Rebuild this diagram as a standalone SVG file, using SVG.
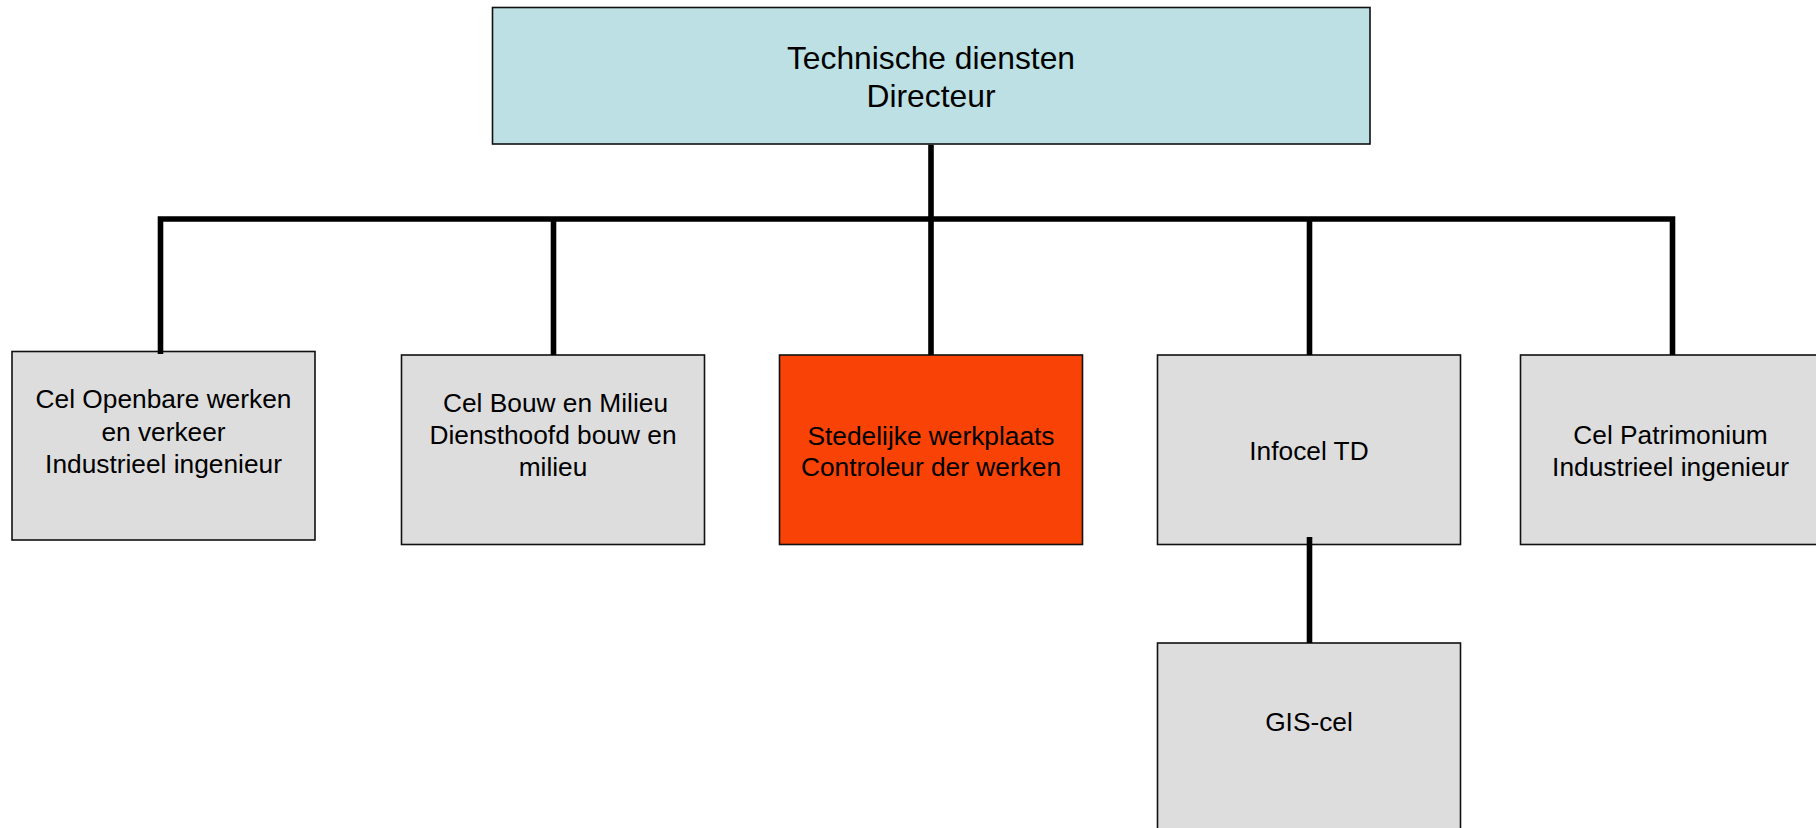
<svg xmlns="http://www.w3.org/2000/svg" width="1816" height="828" viewBox="0 0 1816 828">
<style>
.box{stroke:#111;stroke-width:1.6}
.grey{fill:#DDDDDD}
.blue{fill:#BCE0E3}
.red{fill:#F84206}
.t{font-family:"Liberation Sans",Arial,sans-serif;font-size:26.3px;fill:#000;text-anchor:middle}
.big{font-size:31.8px}
.conn{fill:none;stroke:#000;stroke-width:5.6;stroke-linejoin:miter;stroke-linecap:butt}
</style>
<rect width="1816" height="828" fill="#fff"/>
<g id="n-directeur">
<rect class="box blue" x="492.5" y="7.5" width="877.5" height="136.5"/>
<text class="t big" x="931" y="69">Technische diensten</text>
<text class="t big" x="931" y="106.5">Directeur</text>
</g>
<g id="n-openbare">
<rect class="box grey" x="12" y="351.5" width="303" height="188.5"/>
<text class="t" x="163.5" y="408">Cel Openbare werken</text>
<text class="t" x="163.5" y="440.5">en verkeer</text>
<text class="t" x="163.5" y="472.5">Industrieel ingenieur</text>
</g>
<g id="n-bouw">
<rect class="box grey" x="401.5" y="355" width="303" height="189.5"/>
<text class="t" x="555.5" y="411.5">Cel Bouw en Milieu</text>
<text class="t" x="553" y="444">Diensthoofd bouw en</text>
<text class="t" x="553" y="476">milieu</text>
</g>
<g id="n-werkplaats">
<rect class="box red" x="779.5" y="355" width="303" height="189.5"/>
<text class="t" x="931" y="445">Stedelijke werkplaats</text>
<text class="t" x="931" y="476">Controleur der werken</text>
</g>
<g id="n-infocel">
<rect class="box grey" x="1157.5" y="355" width="303" height="189.5"/>
<text class="t" x="1309" y="460">Infocel TD</text>
</g>
<g id="n-patrimonium">
<rect class="box grey" x="1520.5" y="355" width="302" height="189.5"/>
<text class="t" x="1670.5" y="443.5">Cel Patrimonium</text>
<text class="t" x="1670.5" y="476">Industrieel ingenieur</text>
</g>
<g id="n-gis">
<rect class="box grey" x="1157.5" y="643" width="303" height="190"/>
<text class="t" x="1309" y="730.5">GIS-cel</text>
</g>
<g id="connectors">
<path class="conn" d="M160.5,354 V219 H1672.5 V355"/>
<path class="conn" d="M931,144.8 V355"/>
<path class="conn" d="M553.5,219 V355"/>
<path class="conn" d="M1309.5,219 V355"/>
<path class="conn" d="M1309.5,537 V643"/>
</g>
</svg>
